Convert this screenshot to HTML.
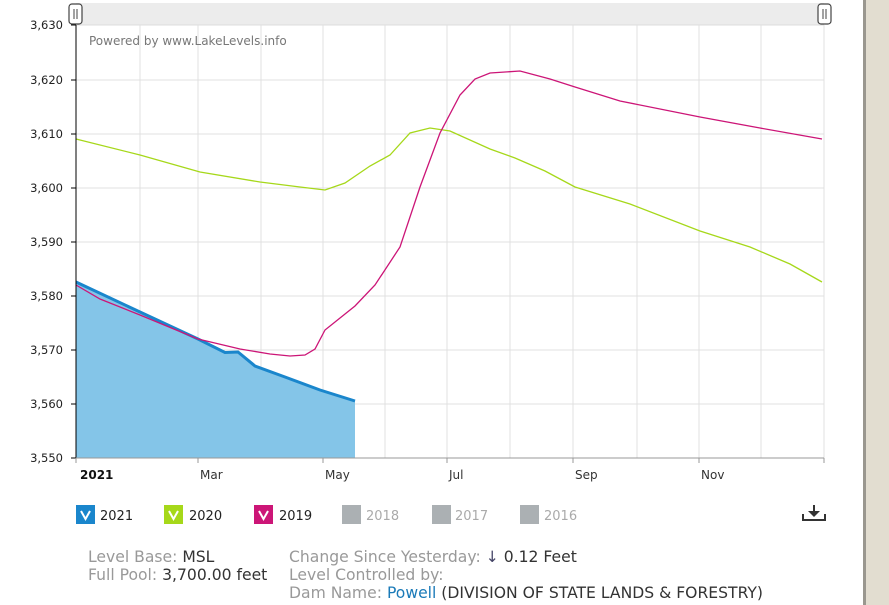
<!DOCTYPE html>
<html><head><style>
body{margin:0;width:889px;height:605px;overflow:hidden;background:#fff;font-family:"DejaVu Sans","Liberation Sans",sans-serif;}
</style></head><body>
<div style="position:absolute;left:863px;top:0;width:3px;height:605px;background:#9a978f"></div>
<div style="position:absolute;left:866px;top:0;width:23px;height:605px;background:#e2ddd0"></div>
<svg width="889" height="605" style="position:absolute;left:0;top:0" font-family="DejaVu Sans, Liberation Sans, sans-serif">
<rect x="76" y="3" width="748" height="22" fill="#ececec"/>
<line x1="76" y1="25" x2="824" y2="25" fill="none" stroke="#ddd"/>
<g stroke="#e0e0e0" stroke-width="1">
<line x1="76" y1="80" x2="824" y2="80"/><line x1="76" y1="134" x2="824" y2="134"/><line x1="76" y1="188" x2="824" y2="188"/><line x1="76" y1="242" x2="824" y2="242"/><line x1="76" y1="296" x2="824" y2="296"/><line x1="76" y1="350" x2="824" y2="350"/><line x1="76" y1="404" x2="824" y2="404"/>
<line x1="140" y1="25" x2="140" y2="458"/><line x1="198" y1="25" x2="198" y2="458"/><line x1="261" y1="25" x2="261" y2="458"/><line x1="323" y1="25" x2="323" y2="458"/><line x1="385" y1="25" x2="385" y2="458"/><line x1="447" y1="25" x2="447" y2="458"/><line x1="510" y1="25" x2="510" y2="458"/><line x1="573" y1="25" x2="573" y2="458"/><line x1="637" y1="25" x2="637" y2="458"/><line x1="699" y1="25" x2="699" y2="458"/><line x1="761" y1="25" x2="761" y2="458"/><line x1="824" y1="25" x2="824" y2="458"/>
</g>
<path d="M76,282 L140,312 198,339 225,352.5 238,352 255,366 285,377 320,390 355,401 L355,458 76,458Z" fill="#84c5e8"/>
<path d="M76,282 L140,312 198,339 225,352.5 238,352 255,366 285,377 320,390 355,401" fill="none" stroke="#1a86cc" stroke-width="3"/>
<path d="M76,139 L140,155 200,172 260,182 300,187 325,190 345,183 370,166 390,155 410,133 430,128 450,131 490,149 515,158 545,171 575,187 630,204 700,231 750,247 790,264 822,282" fill="none" stroke="#a6d81a" stroke-width="1.3"/>
<path d="M76,285 L100,299 140,315 198,339 240,349 270,354 290,356 305,355 315,349 325,330 355,306 375,285 400,247 420,187 440,133 460,95 475,79 490,73 520,71 550,79 575,87 620,101 700,117 760,128 822,139" fill="none" stroke="#cc1577" stroke-width="1.3"/>
<line x1="76" y1="25" x2="76" y2="458" stroke="#000"/>
<line x1="76" y1="458" x2="824" y2="458" stroke="#999"/>
<g stroke="#000"><line x1="71" y1="25" x2="76" y2="25"/><line x1="71" y1="80" x2="76" y2="80"/><line x1="71" y1="134" x2="76" y2="134"/><line x1="71" y1="188" x2="76" y2="188"/><line x1="71" y1="242" x2="76" y2="242"/><line x1="71" y1="296" x2="76" y2="296"/><line x1="71" y1="350" x2="76" y2="350"/><line x1="71" y1="404" x2="76" y2="404"/><line x1="71" y1="458" x2="76" y2="458"/></g>
<g stroke="#999"><line x1="76" y1="458" x2="76" y2="463"/><line x1="198" y1="458" x2="198" y2="463"/><line x1="323" y1="458" x2="323" y2="463"/><line x1="447" y1="458" x2="447" y2="463"/><line x1="573" y1="458" x2="573" y2="463"/><line x1="699" y1="458" x2="699" y2="463"/><line x1="824" y1="458" x2="824" y2="463"/></g>
<g font-size="11.5" fill="#222" text-anchor="end">
<text x="63" y="29">3,630</text><text x="63" y="84">3,620</text><text x="63" y="138">3,610</text><text x="63" y="192">3,600</text><text x="63" y="246">3,590</text><text x="63" y="300">3,580</text><text x="63" y="354">3,570</text><text x="63" y="408">3,560</text><text x="63" y="462">3,550</text>
</g>
<g font-size="12" fill="#333"><text x="80" y="479" font-weight="bold" fill="#111">2021</text><text x="200" y="479">Mar</text><text x="325" y="479">May</text><text x="449" y="479">Jul</text><text x="575" y="479">Sep</text><text x="701" y="479">Nov</text></g>
<text x="89" y="45" font-size="12" fill="#777">Powered by www.LakeLevels.info</text>
<g fill="#fff" stroke="#444" stroke-width="1.2"><rect x="69" y="4" width="13" height="20" rx="3"/><rect x="818" y="4" width="13" height="20" rx="3"/></g>
<g stroke="#444"><line x1="74" y1="9" x2="74" y2="19"/><line x1="77" y1="9" x2="77" y2="19"/><line x1="823" y1="9" x2="823" y2="19"/><line x1="826" y1="9" x2="826" y2="19"/></g>
<g font-size="13">
<rect x="76" y="505" width="19" height="19" fill="#1a86cc"/><text x="100" y="520" fill="#222">2021</text>
<rect x="164" y="505" width="19" height="19" fill="#a6d81a"/><text x="189" y="520" fill="#222">2020</text>
<rect x="254" y="505" width="19" height="19" fill="#cc1577"/><text x="279" y="520" fill="#222">2019</text>
<rect x="342" y="505" width="19" height="19" fill="#abb0b3"/><text x="366" y="520" fill="#aaa">2018</text>
<rect x="432" y="505" width="19" height="19" fill="#abb0b3"/><text x="455" y="520" fill="#aaa">2017</text>
<rect x="520" y="505" width="19" height="19" fill="#abb0b3"/><text x="544" y="520" fill="#aaa">2016</text>
</g>
<g fill="none" stroke="#fff" stroke-width="2"><path d="M81,511 L85.5,519 90,511"/><path d="M169,511 L173.5,519 178,511"/><path d="M259,511 L263.5,519 268,511"/></g>
<g stroke="#333" stroke-width="2" fill="none"><path d="M803,514 v6 h22 v-6"/><line x1="814" y1="505" x2="814" y2="515"/></g>
<path d="M808,511 L814,517 820,511Z" fill="#333"/>
<g font-size="15.6">
<text x="88" y="562" fill="#999">Level Base: <tspan fill="#333">MSL</tspan></text>
<text x="88" y="580" fill="#999">Full Pool: <tspan fill="#333">3,700.00 feet</tspan></text>
<text x="289" y="562" fill="#999">Change Since Yesterday: <tspan fill="#446">↓</tspan><tspan fill="#333"> 0.12 Feet</tspan></text>
<text x="289" y="580" fill="#999">Level Controlled by:</text>
<text x="289" y="598" fill="#999">Dam Name: <tspan fill="#1a7ab8">Powell</tspan><tspan fill="#333"> (DIVISION OF STATE LANDS &amp; FORESTRY)</tspan></text>
</g>
</svg>
</body></html>
